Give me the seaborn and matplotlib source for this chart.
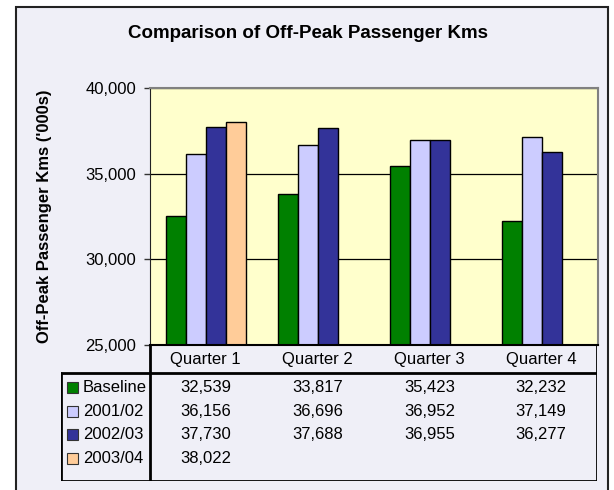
import matplotlib
matplotlib.use("Agg")
import matplotlib.pyplot as plt
import seaborn as sns
import pandas as pd
import numpy as np
from matplotlib.patches import Rectangle
from matplotlib.ticker import StrMethodFormatter

# data
quarters = ["Quarter 1", "Quarter 2", "Quarter 3", "Quarter 4"]
series = ["Baseline", "2001/02", "2002/03", "2003/04"]
baseline = [32539, 33817, 35423, 32232]
y2001 = [36156, 36696, 36952, 37149]
y2002 = [37730, 37688, 36955, 36277]
y2003 = [38022, np.nan, np.nan, np.nan]
colors = ["#008000", "#CCCCFF", "#333399", "#FFCC99"]

values = [baseline, y2001, y2002, y2003]
df = pd.DataFrame({
    "quarter": quarters * len(series),
    "series": [s for s in series for _ in quarters],
    "value": [v for vals in values for v in vals],
})

sns.set_style("white")
plt.rcParams["font.family"] = ["Liberation Sans", "DejaVu Sans"]
plt.rcParams["text.color"] = "black"
plt.rcParams["axes.labelcolor"] = "black"

W, H = 614, 490
fs = 12
fig = plt.figure(figsize=(W / 100, H / 100), dpi=100)
fig.patch.set_facecolor("white")

# lavender chart area with border
fig.patches.append(Rectangle((16 / W, -0.02), (608 - 16) / W, (490 - 7) / H + 0.02,
                             transform=fig.transFigure, facecolor="#EFEFF7",
                             edgecolor="#222222", linewidth=1.5, zorder=-5))

ax = fig.add_axes([150 / W, (H - 345) / H, 448 / W, 257 / H])
ax.set_facecolor("#FFFFCC")
sns.barplot(data=df, x="quarter", y="value", hue="series", order=quarters,
            hue_order=series, palette=colors, width=0.72, gap=0,
            edgecolor="black", linewidth=1, errorbar=None, legend=False,
            saturation=1, ax=ax)
ax.set_xlim(-0.5, 3.5)
ax.set_ylim(25000, 40000)
ax.set_yticks([25000, 30000, 35000, 40000])
ax.yaxis.set_major_formatter(StrMethodFormatter("{x:,.0f}"))
ax.set_axisbelow(True)
ax.yaxis.grid(True, color="black", linewidth=0.9)
ax.xaxis.grid(False)
ax.set_xticks([])
ax.set_xlabel("")
ax.tick_params(axis="y", left=True, length=4, width=1, pad=6, labelsize=fs,
               color="#333333", labelcolor="black")
ax.set_ylabel("Off-Peak Passenger Kms ('000s)", fontsize=fs, fontweight="bold")
ax.yaxis.set_label_coords(-0.219, 0.5)
for side in ["top", "right"]:
    ax.spines[side].set_color("#808080")
    ax.spines[side].set_linewidth(1.5)
ax.spines["left"].set_color("#222222")
ax.spines["bottom"].set_color("black")
ax.spines["bottom"].set_linewidth(1.5)

fig.text(308 / W, 1 - 33 / H, "Comparison of Off-Peak Passenger Kms",
         ha="center", va="center", fontsize=13.5, fontweight="bold")

# data table below the plot, sharing the category scale
unit = 448 / 4
tx0 = -0.5 - (150 - 61) / unit
tab = fig.add_axes([61 / W, (H - 481) / H, (597 - 61) / W, (481 - 345) / H])
tab.set_xlim(tx0, 3.5)
tab.set_ylim(481, 345)
tab.axis("off")
lw = 2
tab.plot([-0.5, -0.5], [345, 481], color="black", lw=lw)
tab.plot([3.5, 3.5], [345, 481], color="black", lw=lw)
tab.plot([tx0, 3.5], [373, 373], color="black", lw=lw)
tab.plot([tx0, 3.5], [481, 481], color="black", lw=lw)
tab.plot([tx0, tx0], [373, 481], color="black", lw=lw)
for i, q in enumerate(quarters):
    tab.text(i, 359.5, q, ha="center", va="center", fontsize=fs)
row_y = [387.5, 411, 434.5, 458]
sq = 11 / unit
for r, (name, vals, c) in enumerate(zip(series, values, colors)):
    y = row_y[r]
    tab.add_patch(Rectangle((tx0 + 6 / unit, y - 5.5), sq, 11, facecolor=c,
                            edgecolor="#333333", linewidth=0.8, clip_on=False))
    tab.text(tx0 + 22 / unit, y, name, ha="left", va="center", fontsize=fs)
    for i, v in enumerate(vals):
        if not np.isnan(v):
            tab.text(i, y, f"{v:,.0f}", ha="center", va="center", fontsize=fs)

fig.savefig("out.png", dpi=100)
